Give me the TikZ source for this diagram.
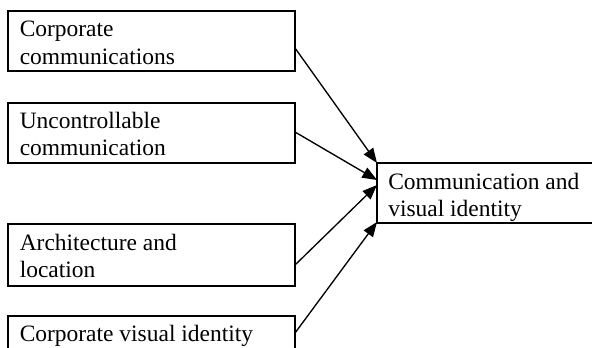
\documentclass[tikz,border=0pt]{standalone}
\usepackage{fontspec}
\setmainfont{Liberation Serif}
\usetikzlibrary{arrows.meta,calc}
\begin{document}
\begin{tikzpicture}[x=0.75pt,y=-0.75pt,
  box/.style={draw,line width=1.1pt,rectangle,anchor=north west,inner sep=0pt,outer sep=0pt,minimum width=287*0.75pt,minimum height=60*0.75pt},
  lbl/.style={anchor=north west,inner sep=0pt,align=left,font=\fontsize{17.6pt}{20.5pt}\selectfont},
  conn/.style={line width=1pt,-{Triangle[length=11pt,width=8.5pt]}}]
\useasboundingbox (0,0) rectangle (592,347);
\clip (0,0) rectangle (592,347);
\node[box] (b1) at (8,11) {};
\node[box] (b2) at (8,103) {};
\node[box,minimum height=62*0.75pt] (b3) at (8,224) {};
\node[box] (b4) at (8,316) {};
\node[box,minimum width=230*0.75pt] (t) at (377,163) {};
\node[lbl] (l1) at ($(b1.north west)+(11.5,6.5)$) {\strut Corporate\\communications};
\node[lbl] (l2) at ($(b2.north west)+(11.5,6.2)$) {\strut Uncontrollable\\communication};
\node[lbl] (l3) at ($(b3.north west)+(11.5,7.2)$) {\strut Architecture and\\location};
\node[lbl] (l4) at ($(b4.north west)+(11.5,5.8)$) {\strut Corporate visual identity};
\node[lbl] (lt) at ($(t.north west)+(11,6.9)$) {\strut Communication and\\visual identity};
\draw[conn] ($(b1.north east)+(0,37)$) -- ($(t.north west)+(0,0)$);
\draw[conn] ($(b2.north east)+(0,29)$) -- ($(t.north west)+(0,17)$);
\draw[conn] ($(b3.north east)+(0,41)$) -- ($(t.north west)+(0,22)$);
\draw[conn] ($(b4.north east)+(0,17)$) -- ($(t.north west)+(0,59)$);
\end{tikzpicture}
\end{document}
